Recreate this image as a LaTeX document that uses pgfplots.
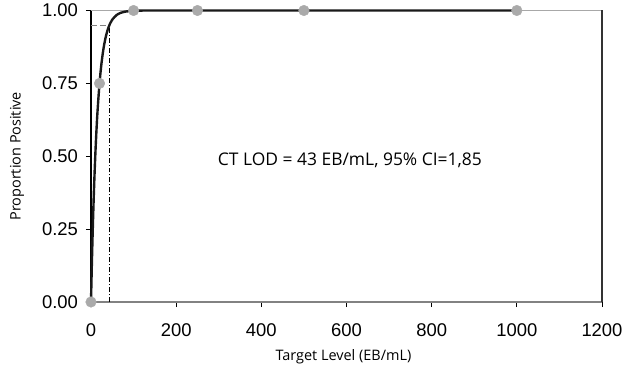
\documentclass[border=0pt]{standalone}
\usepackage{fontspec}
\setmainfont{Liberation Sans}
\newfontfamily\labfont{Open Sans}
\usepackage{pgfplots}
\pgfplotsset{compat=1.18}
\definecolor{dotgray}{RGB}{170,170,170}
\definecolor{axgray}{RGB}{130,130,130}
\begin{document}
\begin{tikzpicture}
\begin{axis}[
  scale only axis,
  width=511bp, height=291.5bp,
  xmin=0, xmax=1200, ymin=0, ymax=1,
  xtick={0,200,...,1200},
  ytick={0,0.25,0.5,0.75,1},
  xticklabel style={/pgf/number format/1000 sep={}, yshift=-13bp},
  yticklabel style={/pgf/number format/fixed, /pgf/number format/fixed zerofill, /pgf/number format/precision=2, xshift=-4.5bp},
  /pgf/number format/assume math mode=true,
  tick style={black, line width=0.8pt},
  tick align=outside,
  major tick length=5bp,
  xtick pos=bottom, ytick pos=left,
  ticklabel style={font=\fontsize{18.5}{20}\selectfont},
  xlabel={\labfont\fontsize{14.5}{16}\selectfont Target Level (EB/mL)},
  ylabel={\labfont\fontsize{14.5}{16}\selectfont Proportion Positive},
  every axis x label/.style={at={(axis description cs:0.494,0)}, yshift=-55bp, anchor=center},
  every axis y label/.style={at={(axis description cs:0,0.5)}, xshift=-74bp, anchor=center, rotate=90},
  axis line style={draw=none},
  clip=false,
]
\coordinate (bl) at (rel axis cs:0,0);
% axis frame lines
\draw[axgray, line width=1.2pt] (axis cs:0,0) -- (axis cs:1200,0);
\draw[black, line width=1.2pt] (axis cs:0,0) -- (axis cs:0,1);
\draw[axgray!70, line width=1pt] (axis cs:0,1) -- (axis cs:1200,1);
\draw[black!80, line width=1.5pt] (axis cs:1200,0) -- (axis cs:1200,1);
% LOD reference lines
\addplot[gray, line width=1.1pt, dash pattern=on 6pt off 3pt] coordinates {(0,0.95) (43,0.95)};
\addplot[black, line width=0.9pt, dash pattern=on 5pt off 2pt on 1pt off 2pt] coordinates {(43,0) (43,0.95)};
% fitted curve
\addplot[black!90, line width=2.4pt, smooth] coordinates {
(0,0) (2,0.1294) (4,0.2421) (6,0.3402) (8,0.4257) (10,0.5) (12,0.5647)
(15,0.6464) (20,0.75) (25,0.8232) (30,0.875) (35,0.9116) (40,0.9375)
(45,0.9558) (50,0.9688) (60,0.9844) (70,0.9922) (80,0.9961) (100,0.999)
(120,0.9998) (150,1) (200,1) (250,1) (500,1) (1000,1)};
% observed points
\addplot[only marks, mark=*, mark size=5.3bp, mark options={draw=dotgray, fill=dotgray}] coordinates {
(0,0) (20,0.75) (100,1) (250,1) (500,1) (1000,1)};
\node[font=\labfont\fontsize{17.5}{19}\selectfont] at (axis cs:608,0.487) {CT LOD = 43 EB/mL, 95\% CI=1,85};
\end{axis}
\pgfresetboundingbox
\path (bl) ++(-91bp,-69bp) rectangle ++(622bp,371bp);
\end{tikzpicture}
\end{document}
